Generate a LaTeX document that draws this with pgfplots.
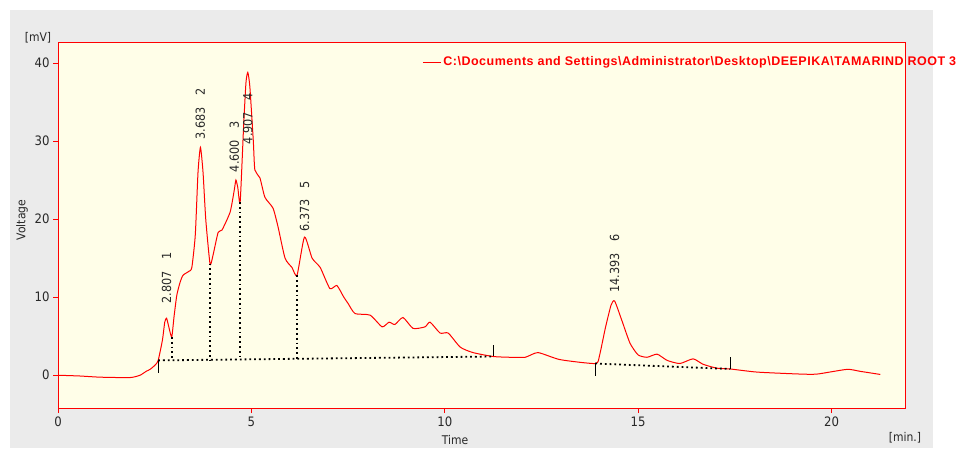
\documentclass[border=0pt]{standalone}
\usepackage{fontspec}
\setmainfont{DejaVu Sans Condensed}
\newfontfamily\legfont[LetterSpace=4]{Liberation Sans}
\usepackage{pgfplots}
\pgfplotsset{compat=1.18}
\definecolor{bg}{RGB}{255,254,232}
\definecolor{outer}{RGB}{235,235,235}
\definecolor{txt}{RGB}{40,40,40}
\begin{document}
\begin{tikzpicture}[x=1pt,y=1pt]
\path[use as bounding box] (0,0) rectangle (971,448);
\fill[outer] (10,0) rectangle (933,438);
\begin{axis}[at={(58pt,40pt)}, anchor=south west, scale only axis,
  width=847pt, height=366pt,
  xmin=0, xmax=21.9, ymin=-4.2, ymax=42.7,
  axis background/.style={fill=bg},
  axis line style={red, line width=1pt},
  xtick={0,5,10,15,20}, ytick={0,10,20,30,40},
  tick align=outside, xtick pos=bottom, ytick pos=left,
  major tick length=5pt, tick style={red, line width=0.8pt},
  ticklabel style={font=\fontsize{13}{13}\selectfont, text=txt},
  /pgf/number format/assume math mode=true,
  legend style={at={(0.43,0.945)}, anchor=west, draw=none, fill=none,
    font=\legfont\bfseries\fontsize{12.5}{12.5}\selectfont, text=red, inner sep=0pt},
  legend cell align=left,
  legend image code/.code={\draw[red, line width=1pt] (0pt,0pt) -- (18pt,0pt);},
  dline/.style={black, line width=1.8pt, dash pattern=on 1.8pt off 3pt},
  tline/.style={black, line width=1pt},
]
\addplot[red, line width=1pt, smooth, tension=0.35] coordinates {
(0,0) (0.57,-0.1) (1.09,-0.25) (1.86,-0.3) (2.12,0) (2.28,0.5) (2.38,0.75) (2.51,1.3) (2.59,1.9)
(2.70,4.5) (2.76,6.8) (2.807,7.3) (2.86,6.3) (2.94,4.9) (3.0,7.5) (3.07,10.2) (3.15,11.8)
(3.23,12.8) (3.38,13.3) (3.46,13.8) (3.55,18) (3.62,26) (3.683,29.2) (3.75,26) (3.82,20)
(3.93,14.3) (4.0,15.2) (4.14,18.3) (4.24,18.6) (4.45,20.9) (4.55,23.5) (4.60,25.0) (4.65,24.0)
(4.71,22.2) (4.80,32) (4.86,37.5) (4.907,38.8) (4.96,37) (5.05,30) (5.09,26.3) (5.22,25.3)
(5.35,22.8) (5.56,21.4) (5.69,19) (5.87,15) (6.05,13.8) (6.18,12.8) (6.373,17.7) (6.57,15)
(6.78,13.8) (7.03,11.1) (7.21,11.5) (7.39,10) (7.50,9.2) (7.68,7.9) (8.07,7.7) (8.38,6.2)
(8.56,6.8) (8.71,6.5) (8.92,7.4) (9.18,6.0) (9.49,6.2) (9.62,6.8) (9.88,5.4) (10.09,5.4)
(10.40,3.6) (10.73,2.9) (11.25,2.4) (11.69,2.3) (12.08,2.3) (12.41,2.9) (12.98,2.0) (13.89,1.5)
(14.0,2.5) (14.15,6) (14.3,9) (14.393,9.5) (14.58,7.0) (14.79,4.1) (15.0,2.6) (15.23,2.3)
(15.49,2.7) (15.75,1.9) (16.08,1.5) (16.42,2.1) (16.68,1.4) (17.04,0.9) (17.38,0.8) (18.08,0.4)
(19.19,0.15) (19.63,0.15) (20.40,0.75) (20.74,0.5) (21.26,0.1)
};
\addlegendentry{C:\textbackslash Documents and Settings\textbackslash Administrator\textbackslash Desktop\textbackslash DEEPIKA\textbackslash TAMARIND ROOT 3}
% baselines
\addplot[dline, forget plot] coordinates {(2.59,1.9) (11.27,2.4)};
\addplot[dline, forget plot] coordinates {(13.89,1.5) (17.38,0.8)};
% drop lines
\addplot[dline, forget plot] coordinates {(2.94,4.9) (2.94,1.92)};
\addplot[dline, forget plot] coordinates {(3.93,14.3) (3.93,1.98)};
\addplot[dline, forget plot] coordinates {(4.71,22.2) (4.71,2.02)};
\addplot[dline, forget plot] coordinates {(6.18,12.8) (6.18,2.11)};
% integration ticks
\addplot[tline, forget plot] coordinates {(2.59,1.9) (2.59,0.3)};
\addplot[tline, forget plot] coordinates {(11.27,2.4) (11.27,3.9)};
\addplot[tline, forget plot] coordinates {(13.89,1.5) (13.89,-0.1)};
\addplot[tline, forget plot] coordinates {(17.38,0.8) (17.38,2.3)};
% peak labels
\tikzset{plab/.style={rotate=90, anchor=west, font=\fontsize{12.5}{12.5}\selectfont, text=txt, inner sep=0pt}}
\node[plab] at (axis cs:2.807,9.2) {2.807\hspace{0.9em}1};
\node[plab] at (axis cs:3.683,30.2) {3.683\hspace{0.9em}2};
\node[plab] at (axis cs:4.56,26.0) {4.600\hspace{0.9em}3};
\node[plab] at (axis cs:4.907,29.6) {4.907\hspace{0.9em}4};
\node[plab] at (axis cs:6.373,18.4) {6.373\hspace{0.9em}5};
\node[plab] at (axis cs:14.393,10.6) {14.393\hspace{0.9em}6};
\end{axis}
\node[font=\fontsize{12}{12}\selectfont, text=txt] at (455,8) {Time};
\node[font=\fontsize{12}{12}\selectfont, text=txt] at (905,10) {[min.]};
\node[font=\fontsize{12}{12}\selectfont, text=txt] at (38,410) {[mV]};
\node[font=\fontsize{12}{12}\selectfont, text=txt, rotate=90] at (22,228) {Voltage};
\end{tikzpicture}
\end{document}
